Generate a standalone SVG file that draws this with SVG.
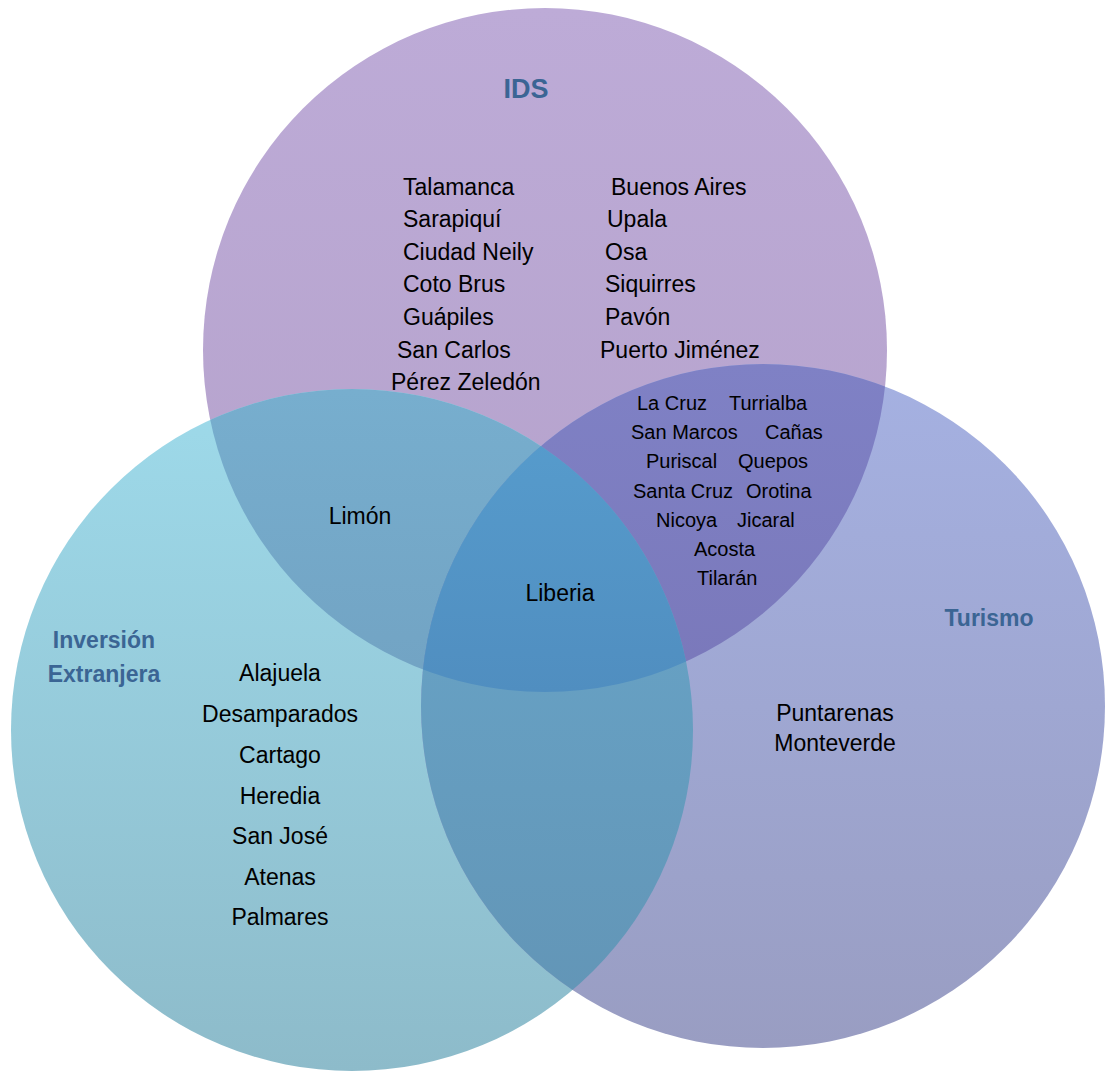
<svg xmlns="http://www.w3.org/2000/svg" width="1105" height="1072" viewBox="0 0 1105 1072">
<style>
.t{font-family:"Liberation Sans",Arial,sans-serif;font-size:23px;fill:#000}
.s{font-family:"Liberation Sans",Arial,sans-serif;font-size:20px;fill:#000}
.c{text-anchor:middle}
.h{font-family:"Liberation Sans",Arial,sans-serif;font-weight:bold;font-size:23px;fill:#3B6594;text-anchor:middle}
</style>
<defs>
<linearGradient id="gI" gradientUnits="userSpaceOnUse" x1="0" y1="8" x2="0" y2="692"><stop offset="0" stop-color="#BDABD7"/><stop offset="1" stop-color="#B4A1CA"/></linearGradient>
<linearGradient id="gV" gradientUnits="userSpaceOnUse" x1="0" y1="390" x2="0" y2="1071"><stop offset="0" stop-color="#9EDAEA"/><stop offset="1" stop-color="#8DBBCA"/></linearGradient>
<linearGradient id="gT" gradientUnits="userSpaceOnUse" x1="0" y1="364" x2="0" y2="1048"><stop offset="0" stop-color="#A5B1E2"/><stop offset="1" stop-color="#999DC2"/></linearGradient>
<linearGradient id="gIV" gradientUnits="userSpaceOnUse" x1="0" y1="390" x2="0" y2="692"><stop offset="0" stop-color="#77AECE"/><stop offset="1" stop-color="#72A3C3"/></linearGradient>
<linearGradient id="gIT" gradientUnits="userSpaceOnUse" x1="0" y1="364" x2="0" y2="692"><stop offset="0" stop-color="#7F81C5"/><stop offset="1" stop-color="#7A78BA"/></linearGradient>
<linearGradient id="gVT" gradientUnits="userSpaceOnUse" x1="0" y1="364" x2="0" y2="1048"><stop offset="0" stop-color="#6AA9CD"/><stop offset="1" stop-color="#6294B5"/></linearGradient>
<linearGradient id="gA" gradientUnits="userSpaceOnUse" x1="0" y1="440" x2="0" y2="692"><stop offset="0" stop-color="#569BCC"/><stop offset="1" stop-color="#508EC0"/></linearGradient>
<clipPath id="cI"><circle cx="545" cy="350" r="342"/></clipPath>
<clipPath id="cV"><circle cx="352" cy="730" r="341"/></clipPath>
<clipPath id="cIV" clip-path="url(#cI)"><circle cx="352" cy="730" r="341"/></clipPath>
</defs>
<g id="ids-circle"><circle cx="545" cy="350" r="342" fill="url(#gI)"/></g>
<g id="inversion-circle"><circle cx="352" cy="730" r="341" fill="url(#gV)"/></g>
<g id="turismo-circle"><circle cx="763" cy="706" r="342" fill="url(#gT)"/></g>
<g id="overlaps">
<circle cx="352" cy="730" r="341" fill="url(#gIV)" clip-path="url(#cI)"/>
<circle cx="763" cy="706" r="342" fill="url(#gIT)" clip-path="url(#cI)"/>
<circle cx="763" cy="706" r="342" fill="url(#gVT)" clip-path="url(#cV)"/>
<circle cx="763" cy="706" r="342" fill="url(#gA)" clip-path="url(#cIV)"/>
</g>
<g id="connectors"/>
<g id="ids">
<text class="h" x="526" y="98" style="font-size:27px">IDS</text>
<text class="t" x="403" y="195">Talamanca</text>
<text class="t" x="403" y="227">Sarapiquí</text>
<text class="t" x="403" y="260">Ciudad Neily</text>
<text class="t" x="403" y="292">Coto Brus</text>
<text class="t" x="403" y="325">Guápiles</text>
<text class="t" x="397" y="358">San Carlos</text>
<text class="t" x="391" y="390">Pérez Zeledón</text>
<text class="t" x="611" y="195">Buenos Aires</text>
<text class="t" x="607" y="227">Upala</text>
<text class="t" x="605" y="260">Osa</text>
<text class="t" x="605" y="292">Siquirres</text>
<text class="t" x="605" y="325">Pavón</text>
<text class="t" x="600" y="358">Puerto Jiménez</text>
</g>
<g id="ids-turismo">
<text class="s" x="637" y="410">La Cruz</text>
<text class="s" x="729" y="410">Turrialba</text>
<text class="s" x="631" y="439">San Marcos</text>
<text class="s" x="765" y="439">Cañas</text>
<text class="s" x="646" y="468">Puriscal</text>
<text class="s" x="738" y="468">Quepos</text>
<text class="s" x="633" y="498">Santa Cruz</text>
<text class="s" x="746" y="498">Orotina</text>
<text class="s" x="656" y="527">Nicoya</text>
<text class="s" x="737" y="527">Jicaral</text>
<text class="s" x="694" y="556">Acosta</text>
<text class="s" x="697" y="585">Tilarán</text>
</g>
<g id="ids-inversion"><text class="t c" x="360" y="524">Limón</text></g>
<g id="all-three"><text class="t c" x="560" y="601">Liberia</text></g>
<g id="inversion">
<text class="h" x="104" y="648">Inversión</text>
<text class="h" x="104" y="682">Extranjera</text>
<text class="t c" x="280" y="681">Alajuela</text>
<text class="t c" x="280" y="722">Desamparados</text>
<text class="t c" x="280" y="763">Cartago</text>
<text class="t c" x="280" y="804">Heredia</text>
<text class="t c" x="280" y="844">San José</text>
<text class="t c" x="280" y="885">Atenas</text>
<text class="t c" x="280" y="925">Palmares</text>
</g>
<g id="turismo">
<text class="h" x="989" y="626">Turismo</text>
<text class="t c" x="835" y="721">Puntarenas</text>
<text class="t c" x="835" y="751">Monteverde</text>
</g>
</svg>
